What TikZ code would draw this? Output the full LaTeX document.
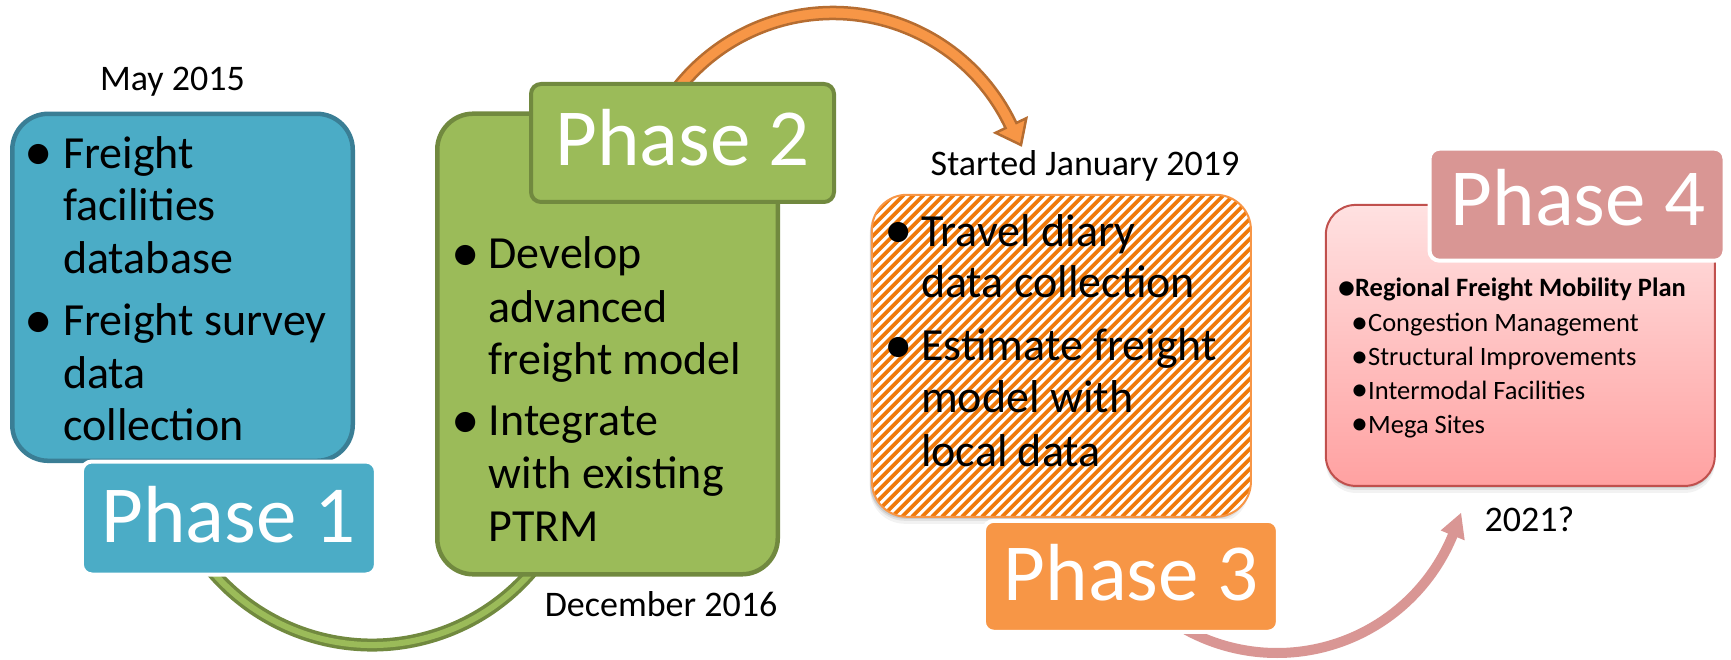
\documentclass[tikz,border=0pt]{standalone}
\usepackage{fontspec}
\setmainfont{Carlito}
\usetikzlibrary{calc}

\definecolor{blueF}{HTML}{4BACC6}
\definecolor{blueD}{HTML}{3A7E95}
\definecolor{greenF}{HTML}{9BBB59}
\definecolor{greenD}{HTML}{71893F}
\definecolor{orangeF}{HTML}{F79646}
\definecolor{orangeD}{HTML}{B66D31}
\definecolor{stripeC}{HTML}{EF790A}
\definecolor{pinkL}{HTML}{D99694}
\definecolor{pinkTop}{HTML}{FFE1E1}
\definecolor{pinkBot}{HTML}{FFA1A1}
\definecolor{redD}{HTML}{C0504D}

% larger list bullet for the small Phase 4 list
\newcommand{\smallbul}{{\fontsize{34}{30}\selectfont\raisebox{-1.5pt}{•}}}

\tikzset{
  bigbox/.style={draw, line width=4.5pt, rounded corners=36pt, inner sep=0pt},
  tagbox/.style={draw, line width=4pt, rounded corners=10pt, inner sep=0pt},
  tagtext/.style={text=white, font=\fontsize{81}{81}\selectfont, inner sep=0pt, anchor=base},
  body/.style={font=\fontsize{46}{52}\selectfont, inner sep=0pt, anchor=base west},
  dot/.style={font=\fontsize{57}{57}\selectfont, inner sep=0pt, anchor=base, yshift=-2.5pt},
  datetext/.style={font=\fontsize{36}{40}\selectfont, inner sep=0pt, anchor=base},
  small/.style={font=\fontsize{26.5}{30}\selectfont, inner sep=0pt, anchor=base west},
  softshadow/.style={fill=black, draw=none, inner sep=0pt},
  stripe/.style={draw=stripeC, line width=3.8pt},
}

\begin{document}
\begin{tikzpicture}[x=1pt, y=1pt]
\useasboundingbox (0,0) rectangle (1731,-660);

% ---- curved connectors (drawn first, boxes sit on top) ----
% green arc under Phase 1 and Phase 2
\coordinate (gc) at (372,-435);
\draw[greenD, line width=13pt] ($(gc)+(200:210)$) arc[start angle=200, end angle=340, radius=210];
\draw[greenF, line width=6pt] ($(gc)+(200:210)$) arc[start angle=200, end angle=340, radius=210];

% orange arrow from Phase 2 over to Phase 3
\coordinate (oc) at (833,-210);
\coordinate (otip) at (1021,-145);
\filldraw[fill=orangeF, draw=orangeD, line width=2.5pt]
  ($(oc)+(150:203)$) arc[start angle=150, end angle=25.4, radius=203]
  -- ($(oc)+(25.4:214)$) -- (otip) -- ($(oc)+(25.4:180)$)
  -- ($(oc)+(25.4:191)$) arc[start angle=25.4, end angle=150, radius=191] -- cycle;

% pink arrow from Phase 3 up to Phase 4
\coordinate (pc) at (1277,-463);
\coordinate (ptip) at (1461,-513);
\fill[pinkL]
  ($(pc)+(240:195)$) arc[start angle=240, end angle=337.6, radius=195]
  -- ($(pc)+(337.6:203)$) -- (ptip) -- ($(pc)+(337.6:177)$)
  -- ($(pc)+(337.6:185)$) arc[start angle=337.6, end angle=240, radius=185] -- cycle;

% ---- Phase 1 ----
\node[bigbox, fill=blueF, draw=blueD, minimum width=340.5pt, minimum height=347pt] (b1) at (182.5,-287.3) {};
\node[tagbox, fill=blueF, draw=white, minimum width=294pt, minimum height=113pt] (l1) at (228.9,-518) {};
\node[tagtext] (t1) at (228.5,-542) {Phase 1};

% ---- Phase 2 ----
\node[bigbox, fill=greenF, draw=greenD, minimum width=340.5pt, minimum height=460.6pt] (b2) at (607.5,-344) {};
\node[tagbox, fill=greenF, draw=greenD, minimum width=303pt, minimum height=118pt] (l2) at (682.5,-143) {};
\node[tagtext] (t2) at (682.5,-166) {Phase 2};

% ---- Phase 3 ----
\foreach \k/\o in {2/0.10,4/0.07,7/0.05} {
  \node[softshadow, fill opacity=\o, rounded corners=35pt, minimum width=379pt, minimum height=322pt] (s3\k) at (1059.4,{-355.8-\k}) {};
}
\node[draw=orangeF, fill=white, line width=2pt, rounded corners=35pt, inner sep=0pt,
      minimum width=379pt, minimum height=322pt,
      path picture={
        \foreach \s in {-340,-330,...,400}
          \draw[stripe] ($(path picture bounding box.south west)+(\s,0)$) -- ++(345,345);
      }] (b3) at (1061.4,-355.8) {};
\node[tagbox, fill=orangeF, draw=white, minimum width=294pt, minimum height=111pt] (l3) at (1130.9,-576.3) {};
\node[tagtext] (t3) at (1131,-600) {Phase 3};

% ---- Phase 4 ----
\foreach \k/\o in {2/0.10,4/0.07,7/0.05} {
  \node[softshadow, fill opacity=\o, rounded corners=30pt, minimum width=389pt, minimum height=281pt] (s4\k) at (1520.3,{-345.4-\k}) {};
}
\node[draw=redD, line width=2pt, top color=pinkTop, bottom color=pinkBot, rounded corners=30pt, inner sep=0pt,
      minimum width=389pt, minimum height=281pt] (b4) at (1520.3,-345.4) {};
\node[tagbox, fill=pinkL, draw=white, minimum width=295pt, minimum height=112pt] (l4) at (1577,-204.7) {};
\node[tagtext] (t4) at (1578,-226) {Phase 4};

% ---- dates ----
\node[datetext] (d1) at (172.5,-91) {May 2015};
\node[datetext] (d2) at (661,-616.6) {December 2016};
\node[datetext] (d3) at (1085,-175.7) {Started January 2019};
\node[datetext] (d4) at (1529.5,-531) {2021?};

% ---- bullet lists ----
\foreach \txt/\yy [count=\i] in {Freight/168.5, facilities/221, database/273.5,
    Freight survey/335.5, data/388, collection/440.5}
  \node[body] (p1l\i) at (63,-\yy) {\txt};
\node[dot] (p1d1) at (39,-168.5) {•};
\node[dot] (p1d2) at (39,-335.5) {•};

\foreach \txt/\yy [count=\i] in {Develop/269, advanced/322, freight model/374.6,
    Integrate/435.6, with existing/488, PTRM/541}
  \node[body] (p2l\i) at (488.5,-\yy) {\txt};
\node[dot] (p2d1) at (466,-269) {•};
\node[dot] (p2d2) at (466,-435.6) {•};

\foreach \txt/\yy [count=\i] in {Travel diary/246.4, data collection/298,
    Estimate freight/360.7, model with/412.5, local data/466}
  \node[body] (p3l\i) at (921,-\yy) {\txt};
\node[dot] (p3d1) at (899,-246.4) {•};
\node[dot] (p3d2) at (899,-360.7) {•};

\node[small, font=\fontsize{26.5}{30}\selectfont\bfseries] (p4h) at (1338,-296.7) {\smallbul Regional Freight Mobility Plan};
\foreach \txt/\yy [count=\i] in {Congestion Management/331.7, Structural Improvements/365.5,
    Intermodal Facilities/399.3, Mega Sites/433.1}
  \node[small] (p4l\i) at (1351,-\yy) {\smallbul\txt};

\end{tikzpicture}
\end{document}
